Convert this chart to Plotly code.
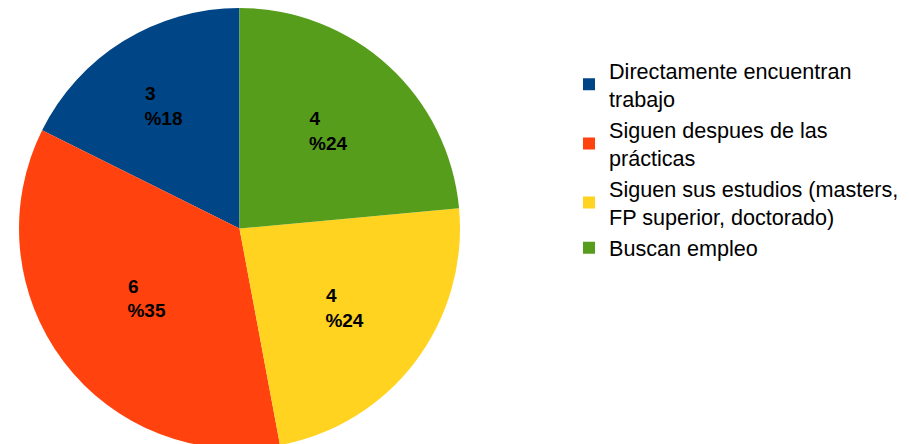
import plotly.graph_objects as go

categories = [
    "Directamente encuentran<br>trabajo",
    "Siguen despues de las<br>prácticas",
    "Siguen sus estudios (masters,<br>FP superior, doctorado)",
    "Buscan empleo",
]
values = [3, 6, 4, 4]
colors = ["#004586", "#ff420e", "#ffd320", "#579d1c"]

total = sum(values)
# value on first line (left-aligned by padding), percentage on second line
texts = [
    f"<b>{v}{'&nbsp;' * 5}</b><br><b>%{round(100 * v / total)}</b>" for v in values
]

fig = go.Figure(
    go.Pie(
        labels=categories,
        values=values,
        marker=dict(colors=colors, line=dict(width=0)),
        sort=False,
        direction="counterclockwise",
        # first slice starts at 12 o'clock and runs counterclockwise
        rotation=-360 * values[0] / total,
        text=texts,
        textinfo="text",
        textposition="inside",
        insidetextorientation="horizontal",
        textfont=dict(family="Liberation Sans, Arial, sans-serif", size=19, color="black"),
        hoverinfo="label+value+percent",
        domain=dict(x=[0, 463 / 909], y=[0, 1]),
    )
)

fig.update_layout(
    width=909,
    height=444,
    margin=dict(l=0, r=0, t=0, b=3),
    paper_bgcolor="white",
    plot_bgcolor="white",
    showlegend=True,
    legend=dict(
        x=561 / 909,
        xanchor="left",
        y=1 - 42 / 444,
        yanchor="top",
        font=dict(family="Liberation Sans, Arial, sans-serif", size=21.6, color="black"),
        bgcolor="rgba(0,0,0,0)",
        traceorder="normal",
    ),
)

fig.write_html("out.html")
